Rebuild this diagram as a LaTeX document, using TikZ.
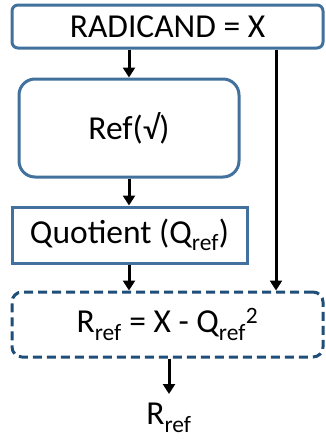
\documentclass[tikz,border=0pt]{standalone}
\usepackage{fontspec}
\setmainfont{Carlito}
\usetikzlibrary{arrows.meta}
\definecolor{boxblue}{HTML}{41719C}
\definecolor{dashblue}{HTML}{1F4E79}
\tikzset{
  box/.style={draw=boxblue, line width=3pt, fill=white, inner sep=0pt,
    font=\fontsize{33.5}{38}\selectfont},
  dbox/.style={box, draw=dashblue, dash pattern=on 9pt off 5pt},
  arr/.style={line width=3pt, -{Triangle[length=10pt,width=12pt]}},
  lbl/.style={font=\fontsize{33.5}{38}\selectfont, inner sep=0pt}
}
\newcommand{\sref}{\textsubscript{ref}}
\begin{document}
\begin{tikzpicture}[x=1pt,y=-1pt]
\useasboundingbox (0,0) rectangle (325,440);
\node[box, rounded corners=6pt, minimum width=311pt, minimum height=43pt]
  (rad) at (167.5,26.5) {RADICAND = X};
\node[box, rounded corners=16pt, minimum width=220pt, minimum height=98pt]
  (ref) at (129,128) {Ref(√)};
\node[box, minimum width=235pt, minimum height=56pt]
  (quo) at (129.5,235) {Quotient (Q\sref)};
\node[dbox, rounded corners=10pt, minimum width=311pt, minimum height=65pt]
  (rem) at (167.5,324.5) {R\sref{} = X - Q\sref\textsuperscript{2}};
\node[lbl, anchor=north] (out) at (169,403) {R\sref};
\coordinate (tap) at (276,0);
\draw[arr] (ref.north |- rad.south) -- (ref.north);
\draw[arr] (ref.south) -- (ref.south |- quo.north);
\draw[arr] (ref.south |- quo.south) -- (ref.south |- rem.north);
\draw[arr] (rad.south -| tap) -- (rem.north -| tap);
\draw[arr] (rem.south -| out) -- (169,394);
\end{tikzpicture}
\end{document}
